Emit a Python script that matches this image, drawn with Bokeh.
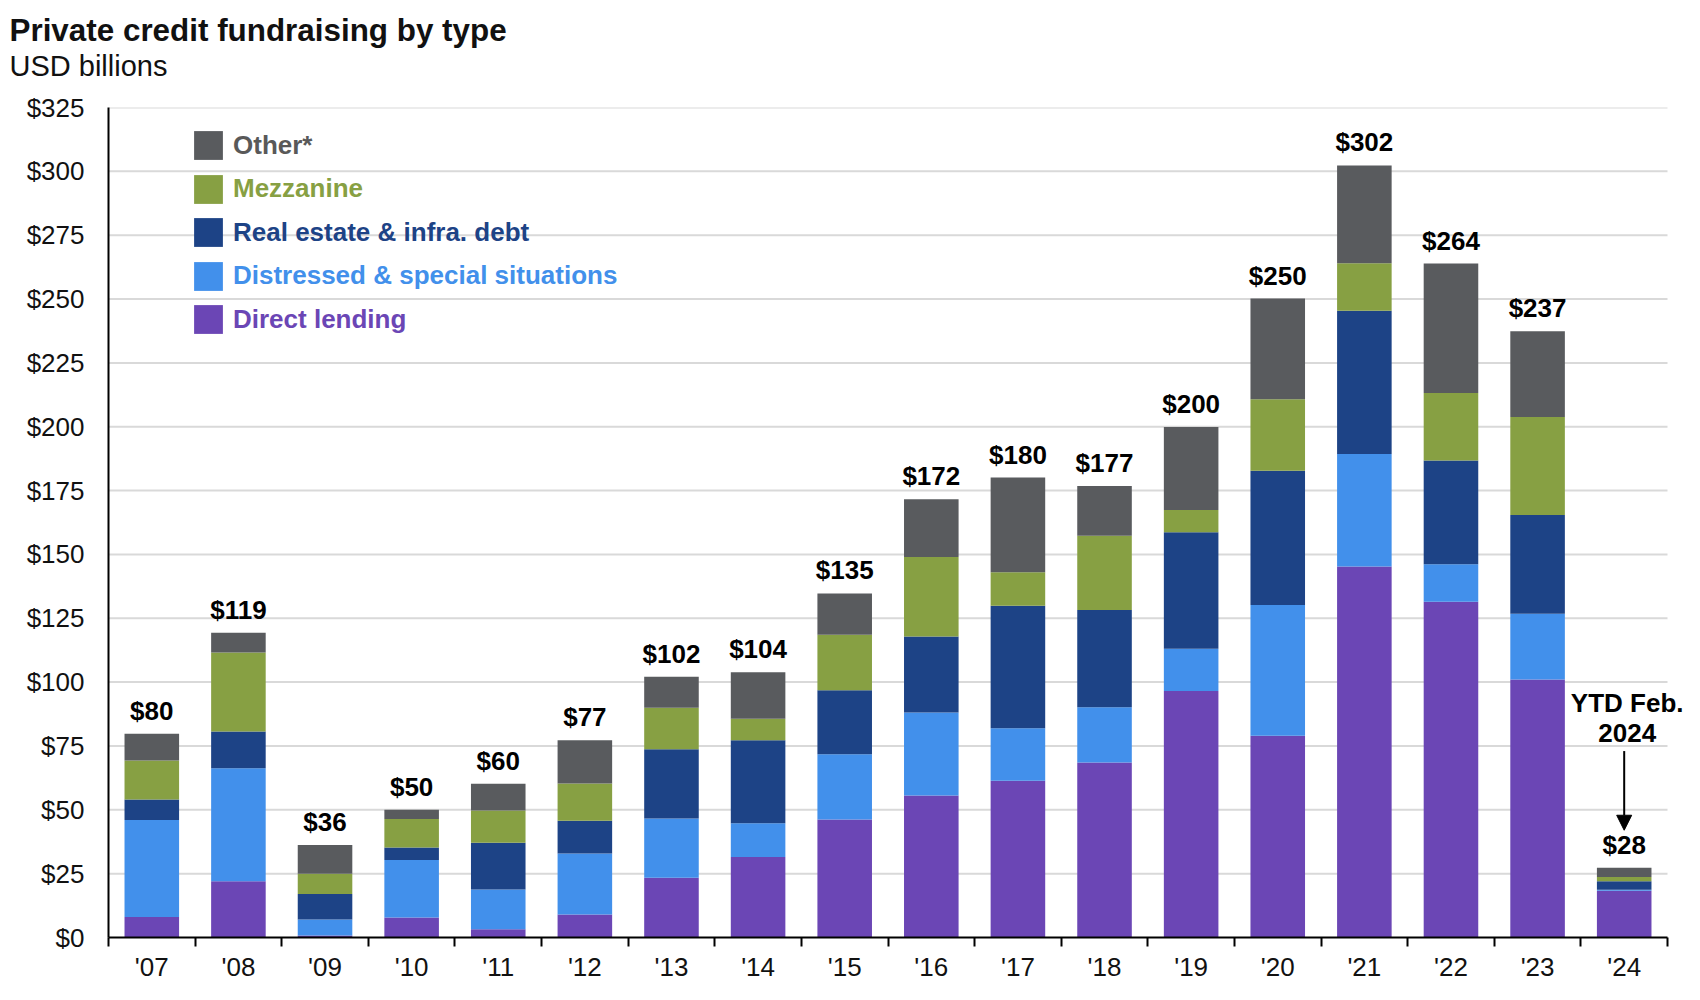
from bokeh.plotting import figure
from bokeh.models import (Range1d, FixedTicker, ColumnDataSource, Legend, LegendItem,
                          Label, Title, Arrow, NormalHead, NumeralTickFormatter)
from bokeh.core.properties import value
from bokeh.embed import file_html
from bokeh.resources import INLINE

# ---------------- data ----------------
years = ["'07", "'08", "'09", "'10", "'11", "'12", "'13", "'14", "'15",
         "'16", "'17", "'18", "'19", "'20", "'21", "'22", "'23", "'24"]
direct_lending = [8.0, 22.0, 0.8, 7.8, 3.2, 9.0, 23.4, 31.5, 46.2,
                  55.6, 61.4, 68.5, 96.5, 79.0, 145.3, 131.5, 101.0, 18.3]
distressed = [38.0, 44.3, 6.2, 22.5, 15.6, 23.9, 23.2, 13.2, 25.6,
              32.5, 20.5, 21.7, 16.6, 51.2, 44.0, 14.7, 25.8, 0.4]
real_estate = [8.0, 14.4, 10.0, 4.9, 18.3, 12.8, 27.1, 32.5, 25.0,
               29.8, 48.0, 38.0, 45.6, 52.6, 56.1, 40.6, 38.6, 3.3]
mezzanine = [15.3, 30.9, 8.0, 11.2, 12.6, 14.6, 16.3, 8.5, 21.7,
             31.1, 13.1, 29.1, 8.7, 28.0, 18.6, 26.4, 38.4, 1.7]
other = [10.5, 7.7, 11.2, 3.6, 10.5, 16.9, 12.1, 18.2, 16.2,
         22.6, 37.1, 19.5, 32.5, 39.4, 38.3, 50.7, 33.6, 3.6]
totals = [80, 119, 36, 50, 60, 77, 102, 104, 135,
          172, 180, 177, 200, 250, 302, 264, 237, 28]

series_keys = ["direct", "distressed", "real_estate", "mezzanine", "other"]
series_names = ["Direct lending", "Distressed & special situations",
                "Real estate & infra. debt", "Mezzanine", "Other*"]
series_colors = ["#6b46b5", "#4290eb", "#1d4386", "#87a043", "#595b5e"]
label_colors = ["#6b46b5", "#4290eb", "#1d4386", "#87a043", "#595959"]
y_ticks = list(range(0, 326, 25))

title_text = "Private credit fundraising by type"
subtitle_text = "USD billions"
ytd_note = ["YTD Feb.", "2024"]

FONT = "Liberation Sans"

# ---------------- source ----------------
n = len(years)
xs = list(range(n))
stack_tops = [round(a + b + c + d + e, 2) for a, b, c, d, e in
              zip(direct_lending, distressed, real_estate, mezzanine, other)]
source = ColumnDataSource(dict(
    x=xs, direct=direct_lending, distressed=distressed, real_estate=real_estate,
    mezzanine=mezzanine, other=other, top=stack_tops,
    label=["$" + str(t) for t in totals],
))

# ---------------- figure ----------------
W, H = 1684, 984
LEFT, TOP, BOTTOM = 108, 107, 41
GAP_RIGHT = 17                      # empty space right of the last category
cat_px = (W - LEFT - GAP_RIGHT) / n
x_end = n - 0.5 + GAP_RIGHT / cat_px

p = figure(width=W, height=H, output_backend="svg", toolbar_location=None,
           x_range=Range1d(-0.5, x_end), y_range=Range1d(0, 325),
           min_border_left=LEFT, min_border_right=0, min_border_top=TOP,
           min_border_bottom=BOTTOM)
p.outline_line_color = None
p.background_fill_color = "white"
p.border_fill_color = "white"

# title block (spacer, subtitle, title stacked outward from the plot)
p.add_layout(Title(text=" ", text_font=FONT, text_font_size="1px", standoff=23), "above")
p.add_layout(Title(text=subtitle_text, text_font=FONT, text_font_size="29px",
                   text_font_style="normal", text_color="#111111", align="left",
                   offset=-99, standoff=0), "above")
p.add_layout(Title(text=title_text, text_font=FONT, text_font_size="31.4px",
                   text_font_style="bold", text_color="#111111", align="left",
                   offset=-99, standoff=0), "above")

# grid lines limited to the category area
grid_y = [t for t in y_ticks if t > 0]
p.segment(x0=[-0.5] * len(grid_y), x1=[n - 0.5] * len(grid_y), y0=grid_y, y1=grid_y,
          line_color="#d9d9d9", line_width=2, level="underlay")

renderers = p.vbar_stack(series_keys, x="x", width=0.63, color=series_colors,
                         line_color=None, source=source)

# total labels
p.text(x="x", y="top", text="label", source=source, text_align="center",
       text_baseline="bottom", y_offset=-8, text_font=value(FONT),
       text_font_style="bold", text_font_size="26px", text_color="#000000")

# YTD annotation
last = n - 1
for line, dy in zip(ytd_note, [64, 52]):
    p.add_layout(Label(x=last, y=totals[-1] + dy, text=line, text_align="center",
                       text_baseline="middle", x_offset=3, text_font=FONT,
                       text_font_style="bold", text_font_size="26px",
                       text_color="#000000"))
p.add_layout(Arrow(x_start=last, y_start=totals[-1] + 45, x_end=last,
                   y_end=totals[-1] + 14, line_color="black", line_width=2,
                   end=NormalHead(size=15, fill_color="black", line_color="black")))

# axes
xa = p.xaxis[0]
xa.ticker = FixedTicker(ticks=xs, minor_ticks=[i - 0.5 for i in range(n + 1)])
xa.major_label_overrides = {i: y for i, y in enumerate(years)}
xa.bounds = (-0.5, n - 0.5)
xa.major_tick_out = 0
xa.major_tick_in = 0
xa.minor_tick_out = 9
xa.minor_tick_in = 0
xa.minor_tick_line_color = "black"
xa.minor_tick_line_width = 2
xa.axis_line_color = "black"
xa.axis_line_width = 2
xa.major_label_standoff = 5
xa.major_label_text_font = FONT
xa.major_label_text_font_size = "26px"
xa.major_label_text_color = "#111111"

ya = p.yaxis[0]
ya.ticker = FixedTicker(ticks=y_ticks)
ya.formatter = NumeralTickFormatter(format="$0")
ya.major_tick_out = 0
ya.major_tick_in = 0
ya.minor_tick_line_color = None
ya.axis_line_color = "black"
ya.axis_line_width = 2
ya.major_label_standoff = 24
ya.major_label_text_font = FONT
ya.major_label_text_font_size = "26px"
ya.major_label_text_color = "#111111"

p.xgrid.visible = False
p.ygrid.visible = False

# legend: one legend per entry so each label gets its own colour
order = [4, 3, 2, 1, 0]
frame_h = H - TOP - BOTTOM
for row, idx in enumerate(order):
    leg = Legend(items=[LegendItem(label=series_names[idx], renderers=[renderers[idx]])],
                 location=(82, frame_h - 62 - row * 43.5),
                 orientation="vertical", padding=0, margin=0, spacing=0,
                 glyph_width=36, glyph_height=36, label_height=36,
                 label_standoff=7, label_text_font=FONT,
                 label_text_font_size="26px", label_text_font_style="bold",
                 label_text_color=label_colors[idx], border_line_color=None,
                 background_fill_alpha=0)
    p.add_layout(leg, "center")

open("out.html", "w").write(file_html(p, INLINE))
